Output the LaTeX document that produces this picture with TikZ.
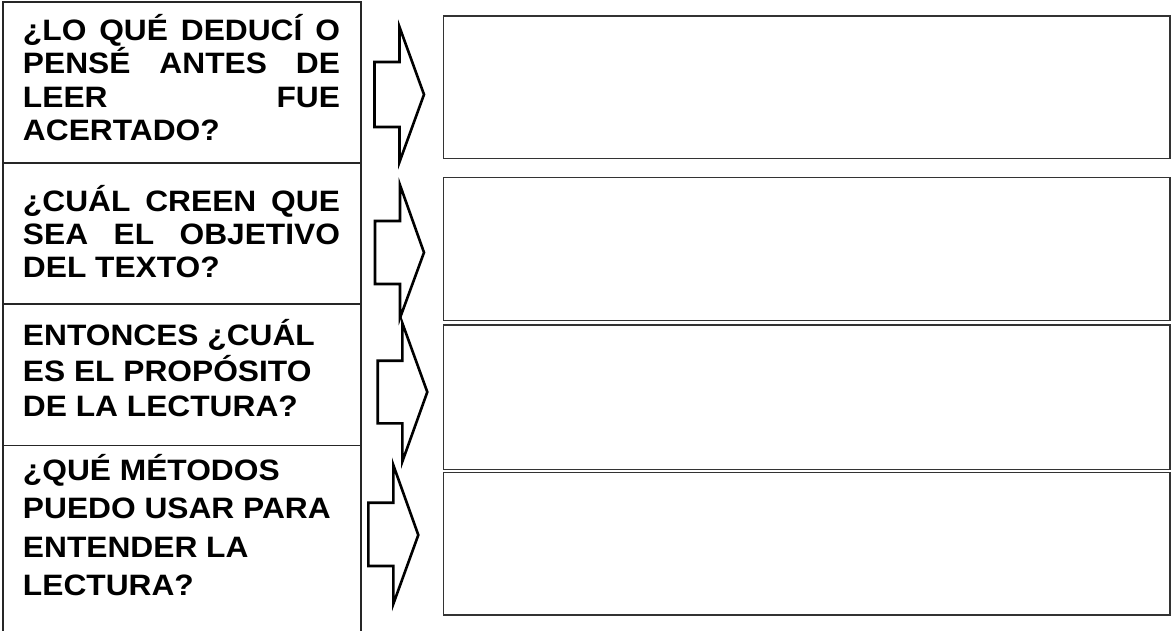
\documentclass[tikz,border=0pt]{standalone}
\usepackage{fontspec}
\setmainfont{Liberation Sans}[FakeStretch=1.075]
\begin{document}
\begin{tikzpicture}[x=1pt,y=-1pt,
  lbox/.style={draw=black!85, line width=1.2pt, rectangle, inner sep=0pt, outer sep=0pt, anchor=north west},
  rbox/.style={draw=black!80, line width=1.4pt, rectangle, inner sep=0pt, outer sep=0pt, anchor=north west},
  arrowline/.style={draw=black, line width=2.6pt, line join=miter, fill=white},
  qtext/.style={anchor=base west, inner sep=0pt, outer sep=0pt, font=\fontsize{29.5}{33.3}\selectfont\bfseries}]
\useasboundingbox (0,0) rectangle (1172,631);
\begin{scope}
\clip (0,0) rectangle (1172,631);
% left question boxes
\node[lbox, minimum width=358pt, minimum height=161pt] (q1) at (3,2) {};
\node[lbox, minimum width=358pt, minimum height=141pt] (q2) at (3,163) {};
\node[lbox, minimum width=358pt, minimum height=141.7pt] (q3) at (3,304) {};
\node[lbox, minimum width=358pt, minimum height=200pt] (q4) at (3,445.7) {};
% right answer boxes
\node[rbox, minimum width=726.7pt, minimum height=142.5pt] (r1) at (443.3,16) {};
\node[rbox, minimum width=726.7pt, minimum height=143.2pt] (r2) at (443.3,177.5) {};
\node[rbox, minimum width=726.7pt, minimum height=144.3pt] (r3) at (443.3,325) {};
\node[rbox, minimum width=726.7pt, minimum height=142.5pt] (r4) at (443.3,472.3) {};
% block arrows
\draw[arrowline] (374.5,62) -- (399.5,62) -- (399.5,27) -- (424,94.5) -- (399.5,162) -- (399.5,127) -- (374.5,127) -- cycle;
\draw[arrowline] (375,221) -- (400,221) -- (400,185) -- (424,252.5) -- (400,318) -- (400,284) -- (375,284) -- cycle;
\draw[arrowline] (377.7,360.7) -- (402.3,360.7) -- (402.3,323) -- (427.3,392) -- (402.3,461.7) -- (402.3,423.3) -- (377.7,423.3) -- cycle;
\draw[arrowline] (368.3,502.7) -- (393.3,502.7) -- (393.3,465) -- (418.3,535) -- (393.3,604) -- (393.3,566) -- (368.3,566) -- cycle;
\end{scope}
% texts
\node[qtext] (t1) at (23,40.7) {\parbox[t]{317pt}{\makebox[317pt][s]{¿LO QUÉ DEDUCÍ O}\\\makebox[317pt][s]{PENSÉ ANTES DE}\\\makebox[317pt][s]{LEER FUE}\\ACERTADO?}};
\node[qtext] (t2) at (23,211.3) {\parbox[t]{317pt}{\makebox[317pt][s]{¿CUÁL CREEN QUE}\\\makebox[317pt][s]{SEA EL OBJETIVO}\\DEL TEXTO?}};
\node[qtext] (t3) at (23,345.7) {\parbox[t]{317pt}{\baselineskip=35.5pt ENTONCES ¿CUÁL\\ES EL PROPÓSITO\\DE LA LECTURA?}};
\node[qtext] (t4) at (23,480) {\parbox[t]{317pt}{\baselineskip=38.5pt ¿QUÉ MÉTODOS\\PUEDO USAR PARA\\ENTENDER LA\\LECTURA?}};
\end{tikzpicture}
\end{document}
